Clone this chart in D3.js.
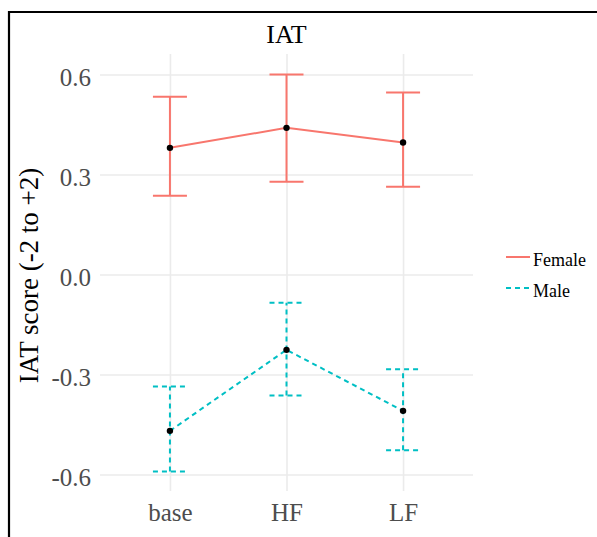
<!DOCTYPE html>
<html>
<head>
<meta charset="utf-8">
<script src="https://cdn.jsdelivr.net/npm/d3@7"></script>
<style>
  body { margin: 0; background: #fff; }
  svg { display: block; }
  svg text { font-family: "Liberation Serif", "Times New Roman", Times, "DejaVu Serif", "Noto Serif", serif !important; }
</style>
</head>
<body>
<div id="graph"></div>
<script>
const svgw = 597
const svgh = 537
const padL = 100, padR = 473, padT = 54, padB = 491

const conditions = ['base', 'HF', 'LF']
const groups = ['Female', 'Male']
const femaleMean = [0.380, 0.440, 0.396]
const femaleLow = [0.236, 0.278, 0.263]
const femaleHigh = [0.533, 0.600, 0.546]
const maleMean = [-0.469, -0.226, -0.409]
const maleLow = [-0.591, -0.363, -0.527]
const maleHigh = [-0.336, -0.085, -0.284]
const yTicks = [-0.6, -0.3, 0.0, 0.3, 0.6]
const colors = ['#F8766D', '#00BFC4']
const dashes = [null, '5,4']

const series = [
    {name: groups[0], mean: femaleMean, lo: femaleLow, hi: femaleHigh},
    {name: groups[1], mean: maleMean, lo: maleLow, hi: maleHigh}
]

const svg = d3.select('#graph')
    .append('svg')
    .attr('width', svgw)
    .attr('height', svgh)

// frame like the screenshot
svg.append('path')
    .attr('d', `M9,${svgh + 5}V12H${svgw + 5}`)
    .attr('fill', 'none')
    .attr('stroke', '#000')
    .attr('stroke-width', 2.2)

const xScale = d3.scalePoint()
    .domain(conditions)
    .range([padL, padR])
    .padding(0.6)
const yScale = d3.scaleLinear()
    .domain([-0.6495, 0.6615])
    .range([padB, padT])

const xAxis = svg.append('g')
    .attr('transform', `translate(0,${padB})`)
    .call(d3.axisBottom(xScale).tickSizeInner(-(padB - padT)).tickSizeOuter(0).tickPadding(12))
const yAxis = svg.append('g')
    .attr('transform', `translate(${padL},0)`)
    .call(d3.axisLeft(yScale).tickValues(yTicks).tickFormat(d3.format('.1f'))
        .tickSizeInner(-(padR - padL)).tickSizeOuter(0).tickPadding(9))

for (const ax of [xAxis, yAxis]) {
    ax.attr('font-family', null)
    ax.select('.domain').remove()
    ax.selectAll('.tick line').attr('stroke', '#EBEBEB').attr('stroke-width', 1.6)
    ax.selectAll('.tick text')
        .attr('fill', '#4D4D4D')
        .style('font-size', '25px')
}
yAxis.selectAll('.tick text').attr('dy', '0.44em').text(d => d3.format('.1f')(d).replace('−', '-'))

const line = d3.line()
    .x((d, i) => xScale(conditions[i]))
    .y(d => yScale(d))

const capw = 17

series.forEach((s, k) => {
    const g = svg.append('g')
        .attr('stroke', colors[k])
        .attr('stroke-width', 2)
        .attr('fill', 'none')
        .attr('stroke-dasharray', dashes[k])
    conditions.forEach((c, i) => {
        const x = xScale(c)
        g.append('line').attr('x1', x).attr('x2', x).attr('y1', yScale(s.lo[i])).attr('y2', yScale(s.hi[i]))
        g.append('line').attr('x1', x - capw).attr('x2', x + capw).attr('y1', yScale(s.lo[i])).attr('y2', yScale(s.lo[i]))
        g.append('line').attr('x1', x - capw).attr('x2', x + capw).attr('y1', yScale(s.hi[i])).attr('y2', yScale(s.hi[i]))
    })
    g.append('path').attr('d', line(s.mean))
})

series.forEach(s => {
    svg.append('g').selectAll('circle')
        .data(s.mean)
        .enter()
        .append('circle')
        .attr('cx', (d, i) => xScale(conditions[i]))
        .attr('cy', d => yScale(d))
        .attr('r', 3.2)
        .attr('fill', '#000')
})

// title
svg.append('text')
    .attr('x', (padL + padR) / 2)
    .attr('y', 43)
    .attr('text-anchor', 'middle')
    .style('font-size', '26px')
    .attr('fill', '#000')
    .text('IAT')

// y label
svg.append('text')
    .attr('transform', `translate(38,${(padT + padB) / 2 + 3}) rotate(-90)`)
    .attr('text-anchor', 'middle')
    .style('font-size', '27px')
    .attr('fill', '#000')
    .text('IAT score (-2 to +2)')

// legend
const legend = svg.append('g')
groups.forEach((name, k) => {
    const y = 257 + k * 31
    legend.append('line')
        .attr('x1', 506).attr('x2', 530)
        .attr('y1', y).attr('y2', y)
        .attr('stroke', colors[k])
        .attr('stroke-width', 2)
        .attr('stroke-dasharray', dashes[k])
    legend.append('text')
        .attr('x', 533)
        .attr('y', y + 9)
        .style('font-size', '18px')
        .attr('fill', '#000')
        .text(name)
})
</script>
</body>
</html>
